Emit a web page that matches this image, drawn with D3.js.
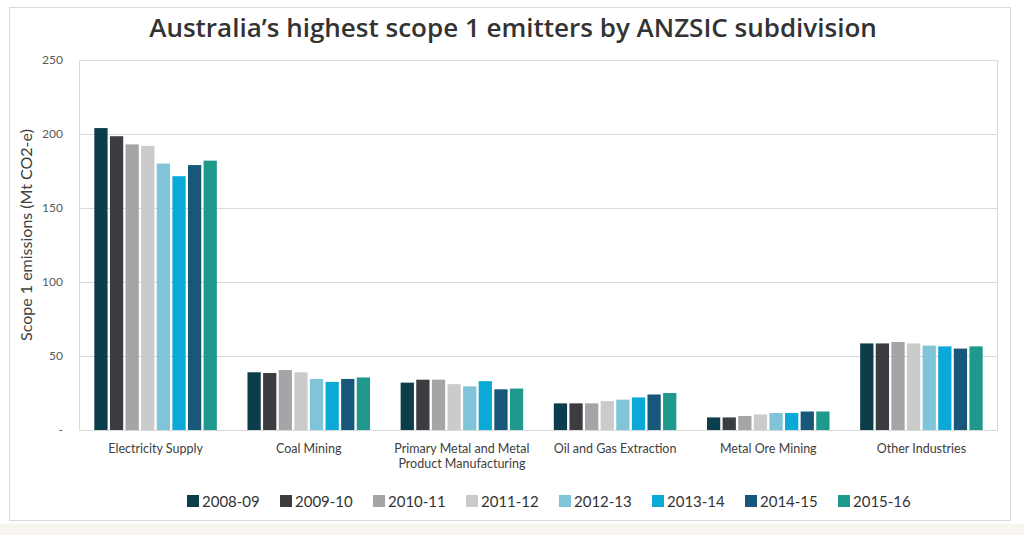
<!DOCTYPE html>
<html>
<head>
<meta charset="utf-8">
<script src="https://cdn.jsdelivr.net/npm/d3@7"></script>
<style>
  html, body { margin: 0; padding: 0; background: #ffffff; }
  svg { display: block; }
</style>
</head>
<body>
<svg id="chart" width="1024" height="535"></svg>
<script>
const categories = [
  ["Electricity Supply"],
  ["Coal Mining"],
  ["Primary Metal and Metal", "Product Manufacturing"],
  ["Oil and Gas Extraction"],
  ["Metal Ore Mining"],
  ["Other Industries"]
];
const seriesNames = ["2008-09", "2009-10", "2010-11", "2011-12", "2012-13", "2013-14", "2014-15", "2015-16"];
const electricity = [204, 198.5, 193, 192, 180, 171.5, 179, 182];
const coalMining = [39, 38.5, 40.5, 39, 34.5, 32.5, 34.5, 35.5];
const primaryMetal = [32, 34, 34, 31, 29.5, 33, 27.5, 28];
const oilGas = [18, 18, 18, 19.5, 20.5, 22, 24, 25];
const metalOre = [8.5, 8.5, 9.5, 10.5, 11.5, 11.5, 12.5, 12.5];
const otherIndustries = [58.5, 58.5, 59.5, 58.5, 57, 56.5, 55, 56.5];
const yTicks = [0, 50, 100, 150, 200, 250];
const yTickLabels = ["-", "50", "100", "150", "200", "250"];
const colors = ["#0b3d4a", "#3b3d41", "#a4a5a7", "#cbcbcb", "#80c4d9", "#0aa9d7", "#17587a", "#1f998b"];

const values = [electricity, coalMining, primaryMetal, oilGas, metalOre, otherIndustries];
const catKeys = categories.map(c => c.join(" "));

const svg = d3.select("#chart");

// page background strip & outer frame
svg.append("rect").attr("x", 0).attr("y", 524).attr("width", 1024).attr("height", 11).attr("fill", "#f8f5f0");
svg.append("rect").attr("x", 9.5).attr("y", 7.5).attr("width", 1001).attr("height", 513)
  .attr("fill", "#ffffff").attr("stroke", "#d9d9d9").attr("stroke-width", 1);

// title
svg.append("text")
  .attr("x", 513).attr("y", 37)
  .attr("text-anchor", "middle")
  .attr("font-family", "Open Sans")
  .attr("font-weight", 600)
  .attr("font-size", 26)
  .attr("fill", "#333333")
  .text("Australia’s highest scope 1 emitters by ANZSIC subdivision");

const plot = { left: 79, right: 998, top: 60, bottom: 430 };

const y = d3.scaleLinear().domain([0, 250]).range([plot.bottom, plot.top]);
const x0 = d3.scaleBand().domain(catKeys).range([plot.left, plot.right]).paddingInner(0.2).paddingOuter(0.1);
const x1 = d3.scaleBand().domain(seriesNames).range([0, x0.bandwidth()]).paddingInner(0.15).paddingOuter(0);

// gridlines
svg.append("g")
  .attr("transform", `translate(${plot.left},0)`)
  .call(d3.axisLeft(y).tickValues(yTicks.filter(t => t > 0)).tickSize(-(plot.right - plot.left)).tickFormat(""))
  .call(g => g.select(".domain").remove())
  .call(g => g.selectAll("line").attr("stroke", "#d9d9d9").attr("shape-rendering", "crispEdges"));

// plot border
svg.append("rect")
  .attr("x", plot.left + 0.5).attr("y", plot.top + 0.5)
  .attr("width", plot.right - plot.left - 1).attr("height", plot.bottom - plot.top)
  .attr("fill", "none").attr("stroke", "#d9d9d9");

// y axis labels
svg.append("g")
  .attr("transform", `translate(${plot.left - 13},0)`)
  .call(d3.axisLeft(y).tickValues(yTicks).tickSize(0).tickFormat((d, i) => yTickLabels[i]))
  .call(g => g.select(".domain").remove())
  .call(g => g.selectAll("text").attr("font-family", "Lato").attr("font-size", 12).attr("fill", "#595959"));

// y axis title
svg.append("text")
  .attr("transform", `translate(32,235) rotate(-90)`)
  .attr("text-anchor", "middle")
  .attr("font-family", "Lato")
  .attr("font-size", 16)
  .attr("fill", "#404040")
  .text("Scope 1 emissions (Mt CO2-e)");

// bars
const groups = svg.append("g").selectAll("g")
  .data(catKeys)
  .join("g")
  .attr("transform", d => `translate(${x0(d)},0)`);

groups.selectAll("rect")
  .data((d, i) => values[i].map((v, j) => ({ key: seriesNames[j], value: v, color: colors[j] })))
  .join("rect")
  .attr("x", d => x1(d.key))
  .attr("y", d => y(d.value))
  .attr("width", x1.bandwidth())
  .attr("height", d => y(0) - y(d.value))
  .attr("fill", d => d.color);

// x axis line
svg.append("line")
  .attr("x1", plot.left).attr("x2", plot.right)
  .attr("y1", plot.bottom + 0.5).attr("y2", plot.bottom + 0.5)
  .attr("stroke", "#d9d9d9");

// category labels
const xAxis = svg.append("g")
  .attr("transform", `translate(0,${plot.bottom})`)
  .call(d3.axisBottom(x0).tickSize(0).tickFormat(""))
  .call(g => g.select(".domain").remove());

xAxis.selectAll(".tick").each(function (d, i) {
  const t = d3.select(this).append("text")
    .attr("text-anchor", "middle")
    .attr("font-family", "Lato")
    .attr("font-size", 12.5)
    .attr("fill", "#404040");
  categories[i].forEach((line, k) => {
    t.append("tspan").attr("x", 0).attr("y", 23 + k * 15).text(line);
  });
});

// legend
const legend = svg.append("g").selectAll("g")
  .data(seriesNames)
  .join("g")
  .attr("transform", (d, i) => `translate(${187 + i * 93},495)`);
legend.append("rect").attr("width", 12).attr("height", 12).attr("fill", (d, i) => colors[i]);
legend.append("text")
  .attr("x", 15).attr("y", 11.5)
  .attr("font-family", "Lato")
  .attr("font-size", 15)
  .attr("fill", "#333333")
  .text(d => d);
</script>
</body>
</html>
